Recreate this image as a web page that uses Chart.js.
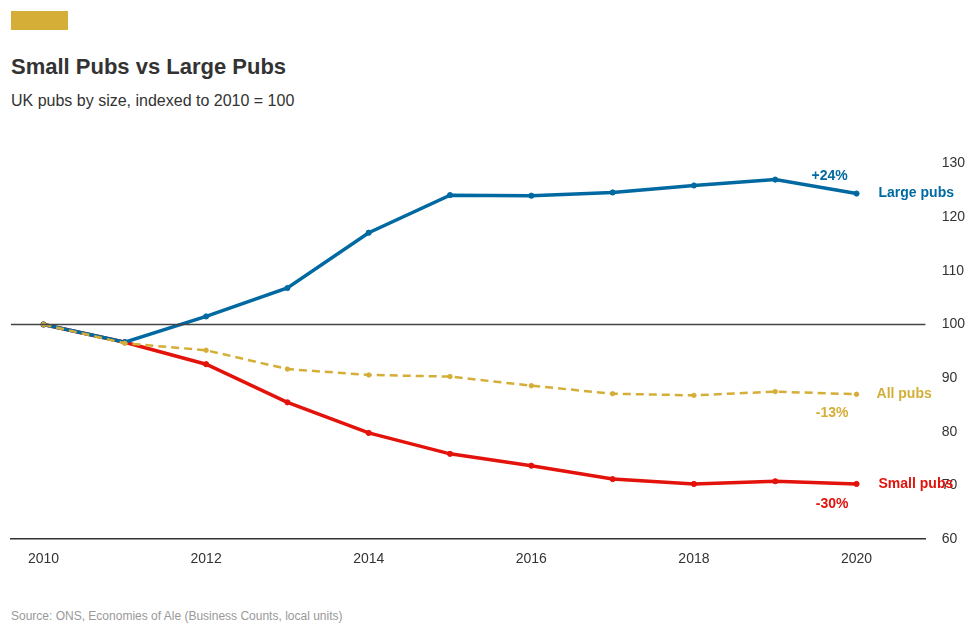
<!DOCTYPE html>
<html><head><meta charset="utf-8">
<script src="https://cdn.jsdelivr.net/npm/chart.js@4"></script>
<style>
body{margin:0;width:976px;height:634px;background:#fff;font-family:Arial,"Liberation Sans",sans-serif;position:relative;overflow:hidden}
#bar{position:absolute;left:11px;top:11px;width:57px;height:19px;background:#d4ae37}
#t{position:absolute;left:11px;top:54px;font-size:22px;font-weight:bold;color:#333}
#s{position:absolute;left:11px;top:92px;font-size:16px;color:#333}
#src{position:absolute;left:11px;top:609px;font-size:12px;color:#999}
#c{position:absolute;left:0;top:0}
</style></head><body>
<div id="bar"></div><div id="t">Small Pubs vs Large Pubs</div>
<div id="s">UK pubs by size, indexed to 2010 = 100</div>
<div id="src">Source: ONS, Economies of Ale (Business Counts, local units)</div>
<canvas id="c" width="976" height="634"></canvas>
<script>
const years=[2010,2011,2012,2013,2014,2015,2016,2017,2018,2019,2020];
const largePubs=[100,96.7,101.5,106.8,117.1,124.1,124.0,124.6,125.9,127.0,124.4];
const allPubs=[100,96.5,95.2,91.7,90.6,90.3,88.6,87.1,86.8,87.5,87.0];
const smallPubs=[100,96.7,92.6,85.5,79.8,75.9,73.7,71.2,70.3,70.8,70.3];
const yTicks=[60,70,80,90,100,110,120,130];
const pts=a=>a.map((v,i)=>({x:years[i],y:v}));
const labels={id:'lbl',afterDatasetsDraw(ch){
 const c=ch.ctx,x=ch.scales.x,y=ch.scales.y;c.save();c.font='bold 14px Arial';
 const L=[['Large pubs','#0069a1',2020,largePubs[10],22],['All pubs','#d4ae37',2020,allPubs[10],20],['Small pubs','#e3120b',2020,smallPubs[10],22]];
 L.forEach(l=>{c.fillStyle=l[1];c.textAlign='left';c.textBaseline='middle';c.fillText(l[0],x.getPixelForValue(l[2])+l[4],y.getPixelForValue(l[3]));});
 c.textAlign='center';
 c.fillStyle='#0069a1';c.fillText('+24%',x.getPixelForValue(2019.67),y.getPixelForValue(127.7));
 c.fillStyle='#d4ae37';c.fillText('-13%',x.getPixelForValue(2019.7),y.getPixelForValue(83.5));
 c.fillStyle='#e3120b';c.fillText('-30%',x.getPixelForValue(2019.7),y.getPixelForValue(66.5));
 c.restore();}};
new Chart(document.getElementById('c'),{type:'line',
data:{datasets:[
{data:[{x:2009.6,y:100},{x:2020.85,y:100}],borderColor:'#444',borderWidth:1.5,pointRadius:0},
{data:pts(allPubs),borderColor:'#d4ae37',backgroundColor:'#d4ae37',borderDash:[8,5],borderWidth:2.5,pointRadius:2.2,pointBorderWidth:1},
{data:pts(largePubs),borderColor:'#0069a1',backgroundColor:'#0069a1',borderWidth:3.5,pointRadius:2.6,pointBorderWidth:1},
{data:pts(smallPubs),borderColor:'#e3120b',backgroundColor:'#e3120b',borderWidth:3.5,pointRadius:2.6,pointBorderWidth:1}]},
options:{responsive:false,animation:false,layout:{padding:{top:142,left:11,right:3,bottom:54}},
plugins:{legend:{display:false},tooltip:{enabled:false}},
scales:{x:{type:'linear',min:2009.6,max:2020.85,grid:{display:false,drawTicks:false},border:{color:'#333',width:1.5},
 afterBuildTicks:s=>{s.ticks=[2010,2012,2014,2016,2018,2020].map(v=>({value:v}));},
 ticks:{color:'#333',font:{size:14,family:'Arial'},padding:12,callback:v=>String(v)}},
y:{position:'right',min:60,max:134,grid:{display:false},border:{display:false},
 afterBuildTicks:s=>{s.ticks=yTicks.map(v=>({value:v}));},
 ticks:{color:'#333',font:{size:14,family:'Arial'},padding:8}}}},
plugins:[labels]});
</script></body></html>
